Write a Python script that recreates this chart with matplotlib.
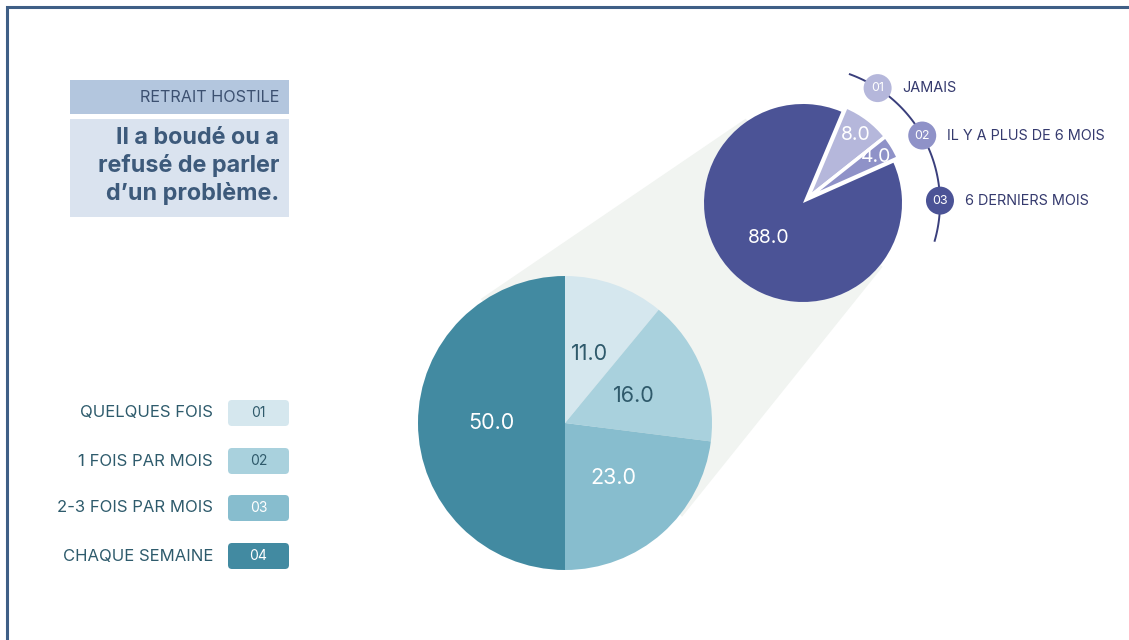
import numpy as np
import matplotlib
matplotlib.use("Agg")
import matplotlib.pyplot as plt
from matplotlib.patches import Polygon, Circle, FancyBboxPatch, Rectangle

plt.rcParams['font.family'] = ['Inter', 'DejaVu Sans']

# ---------------- data ----------------
title_tag = "RETRAIT HOSTILE"
title_text = "Il a boudé ou a\nrefusé de parler\nd\u2019un problème."

freq_labels = ["QUELQUES FOIS", "1 FOIS PAR MOIS", "2-3 FOIS PAR MOIS", "CHAQUE SEMAINE"]
freq_codes = ["01", "02", "03", "04"]
freq_values = [11.0, 16.0, 23.0, 50.0]
freq_colors = ["#d5e7ee", "#a9d1dd", "#87bdce", "#428aa1"]
freq_text_colors = ["#2f5a6b", "#2f5a6b", "#ffffff", "#ffffff"]

when_labels = ["JAMAIS", "IL Y A PLUS DE 6 MOIS", "6 DERNIERS MOIS"]
when_codes = ["01", "02", "03"]
when_values = [8.0, 4.0, 88.0]
when_colors = ["#b5b7db", "#8f92c8", "#4b5396"]

# ---------------- layout ----------------
W, H = 1129, 640
fig = plt.figure(figsize=(W / 100, H / 100), dpi=100)
ax = fig.add_axes([0, 0, 1, 1])


def Y(y):
    return H - y


big_c = (565, Y(423))
big_r = 147
small_c = (803, Y(203))
small_r = 99

# connecting band (external tangents of the two circles)
c1 = np.array(big_c, float)
c2 = np.array(small_c, float)
d = c2 - c1
dist = np.hypot(*d)
base = np.arctan2(d[1], d[0])
alpha = np.arccos((big_r - small_r) / dist)
pts = []
for s in (1, -1):
    n = np.array([np.cos(base + s * alpha), np.sin(base + s * alpha)])
    pts.append((c1 + (big_r + 3) * n, c2 + (small_r + 3) * n))
poly = [pts[0][0], pts[0][1], pts[1][1], pts[1][0]]
ax.add_patch(Polygon(poly, closed=True, facecolor="#f1f4f1", edgecolor="none", zorder=1))
ax.add_patch(Circle(small_c, small_r, facecolor="white", edgecolor="none", zorder=1.5))

# big pie
wedges, _ = ax.pie(freq_values, colors=freq_colors, startangle=90, counterclock=False,
                   center=big_c, radius=big_r, wedgeprops=dict(linewidth=0))
for w in wedges:
    w.set_zorder(2)
for w, v, tc in zip(wedges, freq_values, freq_text_colors):
    ang = np.deg2rad((w.theta1 + w.theta2) / 2)
    ax.text(big_c[0] + 0.5 * big_r * np.cos(ang), big_c[1] + 0.5 * big_r * np.sin(ang),
            f"{v:.1f}", ha="center", va="center", fontsize=15.5, color=tc, zorder=5)

# small pie
sw, _ = ax.pie(when_values, colors=when_colors, startangle=67.2, counterclock=False,
               center=small_c, radius=small_r, wedgeprops=dict(linewidth=0))
for w in sw:
    w.set_zorder(3)
mid = np.deg2rad((sw[1].theta1 + sw[0].theta2) / 2)
shift = 0.07 * small_r
off = np.array([np.cos(mid), np.sin(mid)]) * shift
for w in sw[:2]:
    w.set_center((small_c[0] + off[0], small_c[1] + off[1]))
    w.set_edgecolor("white")
    w.set_linewidth(2.5)
for i, (w, v) in enumerate(zip(sw, when_values)):
    ang = np.deg2rad((w.theta1 + w.theta2) / 2)
    cx, cy = w.center
    rr = 0.8 * small_r if i < 2 else 0.5 * small_r
    ax.text(cx + rr * np.cos(ang), cy + rr * np.sin(ang), f"{v:.1f}",
            ha="center", va="center", fontsize=14, color="white", zorder=5)

# arc legend
arc_r = 137
th = np.deg2rad(np.linspace(70, -16, 100))
ax.plot(small_c[0] + arc_r * np.cos(th), small_c[1] + arc_r * np.sin(th),
        color="#3a3f7c", lw=1.4, zorder=3)
marker_angles = [57, 29.5, 1]
for a, code, lab, col in zip(marker_angles, when_codes, when_labels, when_colors):
    ar = np.deg2rad(a)
    mx, my = small_c[0] + arc_r * np.cos(ar), small_c[1] + arc_r * np.sin(ar)
    ax.add_patch(Circle((mx, my), 14, facecolor=col, edgecolor="none", zorder=4))
    ax.text(mx, my, code, ha="center", va="center", fontsize=9, color="white", zorder=5)
    ax.text(mx + 25, my, lab, ha="left", va="center", fontsize=10.4, color="#353a6e", zorder=5)

# title boxes
ax.add_patch(Rectangle((70, Y(114)), 219, 34, facecolor="#b3c6de", edgecolor="none", zorder=2))
ax.text(279, Y(97), title_tag, ha="right", va="center", fontsize=11.7, color="#3c5070", zorder=5)
ax.add_patch(Rectangle((70, Y(217)), 219, 98, facecolor="#dae3ef", edgecolor="none", zorder=2))
ax.text(279, Y(166), title_text, ha="right", va="center", fontsize=16.8, fontweight="bold",
        color="#3d5a7b", linespacing=1.3, zorder=5)

# frequency legend
rows_y = [413, 461, 508, 556]
for yy, lab, code, col, tc in zip(rows_y, freq_labels, freq_codes, freq_colors, freq_text_colors):
    ax.text(213, Y(yy), lab, ha="right", va="center", fontsize=12, color="#2e5b6c", zorder=5)
    ax.add_patch(FancyBboxPatch((232, Y(yy) - 9), 53, 18,
                                boxstyle="round,pad=4,rounding_size=4",
                                facecolor=col, edgecolor="none", zorder=2))
    ax.text(258.5, Y(yy), code, ha="center", va="center", fontsize=10, color=tc, zorder=5)

# frame (top and left)
ax.plot([6.5, 6.5, W + 5], [-5, Y(6.5), Y(6.5)], color="#3f5f86", lw=2.2, zorder=6,
        solid_joinstyle="miter")

ax.set_xlim(0, W)
ax.set_ylim(0, H)
ax.set_aspect("auto")
ax.axis("off")
fig.savefig("out.png", dpi=100)
